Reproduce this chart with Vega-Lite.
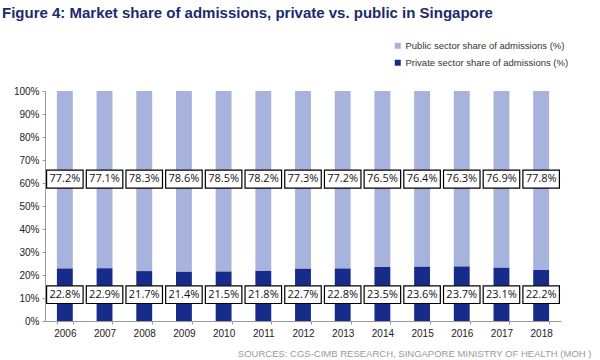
{
  "$schema": "https://vega.github.io/schema/vega-lite/v6.json",
  "width": 516,
  "height": 230,
  "autosize": {"type": "none"},
  "padding": {"left": 45, "top": 91, "right": 39, "bottom": 39},
  "background": "white",
  "config": {
    "view": {"stroke": null},
    "font": "Liberation Sans",
    "axisY": {
      "labelOverlap": false,
      "grid": false,
      "labelFontSize": 10,
      "labelColor": "#222",
      "tickSize": 3,
      "tickColor": "#999",
      "domainColor": "#999",
      "labelPadding": 3
    }
  },
  "title": {
    "text": "Figure 4: Market share of admissions, private vs. public in Singapore",
    "anchor": "start",
    "frame": "group",
    "dx": -43,
    "offset": 20,
    "fontSize": 15,
    "font": "Liberation Sans",
    "fontWeight": "bold",
    "color": "#1c2a6e"
  },
  "data": {
    "values": [
      {"year": "2006", "sector": "Public sector share of admissions (%)", "value": 77.2},
      {"year": "2007", "sector": "Public sector share of admissions (%)", "value": 77.1},
      {"year": "2008", "sector": "Public sector share of admissions (%)", "value": 78.3},
      {"year": "2009", "sector": "Public sector share of admissions (%)", "value": 78.6},
      {"year": "2010", "sector": "Public sector share of admissions (%)", "value": 78.5},
      {"year": "2011", "sector": "Public sector share of admissions (%)", "value": 78.2},
      {"year": "2012", "sector": "Public sector share of admissions (%)", "value": 77.3},
      {"year": "2013", "sector": "Public sector share of admissions (%)", "value": 77.2},
      {"year": "2014", "sector": "Public sector share of admissions (%)", "value": 76.5},
      {"year": "2015", "sector": "Public sector share of admissions (%)", "value": 76.4},
      {"year": "2016", "sector": "Public sector share of admissions (%)", "value": 76.3},
      {"year": "2017", "sector": "Public sector share of admissions (%)", "value": 76.9},
      {"year": "2018", "sector": "Public sector share of admissions (%)", "value": 77.8},
      {"year": "2006", "sector": "Private sector share of admissions (%)", "value": 22.8},
      {"year": "2007", "sector": "Private sector share of admissions (%)", "value": 22.9},
      {"year": "2008", "sector": "Private sector share of admissions (%)", "value": 21.7},
      {"year": "2009", "sector": "Private sector share of admissions (%)", "value": 21.4},
      {"year": "2010", "sector": "Private sector share of admissions (%)", "value": 21.5},
      {"year": "2011", "sector": "Private sector share of admissions (%)", "value": 21.8},
      {"year": "2012", "sector": "Private sector share of admissions (%)", "value": 22.7},
      {"year": "2013", "sector": "Private sector share of admissions (%)", "value": 22.8},
      {"year": "2014", "sector": "Private sector share of admissions (%)", "value": 23.5},
      {"year": "2015", "sector": "Private sector share of admissions (%)", "value": 23.6},
      {"year": "2016", "sector": "Private sector share of admissions (%)", "value": 23.7},
      {"year": "2017", "sector": "Private sector share of admissions (%)", "value": 23.1},
      {"year": "2018", "sector": "Private sector share of admissions (%)", "value": 22.2}
    ]
  },
  "transform": [
    {"calculate": "format(datum.value, '.1f') + '%'", "as": "label"}
  ],
  "encoding": {
    "x": {
      "field": "year",
      "type": "ordinal",
      "scale": {"paddingInner": 0.6, "paddingOuter": 0.3},
      "axis": {
        "title": "SOURCES: CGS-CIMB RESEARCH, SINGAPORE MINISTRY OF HEALTH (MOH )",
        "titleFont": "Liberation Sans",
        "titleFontSize": 9.5,
        "titleFontWeight": "normal",
        "titleColor": "#9a9a9a",
        "titleAnchor": "end",
        "titleAlign": "right",
        "titleBaseline": "alphabetic",
        "titleX": 546,
        "titleY": 35,
        "labelAngle": 0,
        "labelFontSize": 10,
        "labelColor": "#222",
        "labelPadding": 4,
        "tickBand": "extent",
        "tickSize": 3,
        "tickColor": "#999",
        "domainColor": "#999"
      }
    }
  },
  "layer": [
    {
      "mark": {"type": "bar"},
      "encoding": {
        "y": {
          "field": "value",
          "type": "quantitative",
          "stack": "zero",
          "scale": {"domain": [0, 100], "nice": false},
          "axis": {"title": null, "values": [0, 10, 20, 30, 40, 50, 60, 70, 80, 90, 100], "labelExpr": "datum.value + '%'"}
        },
        "order": {"field": "sector", "sort": "ascending"},
        "color": {
          "field": "sector",
          "type": "nominal",
          "scale": {
            "domain": ["Public sector share of admissions (%)", "Private sector share of admissions (%)"],
            "range": ["#a7b3dc", "#172c8a"]
          },
          "legend": {
            "title": null,
            "orient": "none",
            "legendX": 348,
            "legendY": -50,
            "symbolType": "square",
            "symbolSize": 36,
            "symbolStrokeWidth": 0,
            "labelFontSize": 9.5,
            "labelColor": "#333",
            "labelLimit": 300,
            "rowPadding": 6,
            "labelOffset": 3
          }
        }
      }
    },
    {
      "transform": [{"filter": "datum.sector == 'Public sector share of admissions (%)'"}],
      "mark": {"type": "bar", "fill": "white", "stroke": "black", "strokeWidth": 1.2, "width": {"band": 2.3}},
      "encoding": {
        "y": {"datum": 57.8, "axis": {"title": null, "values": [0, 10, 20, 30, 40, 50, 60, 70, 80, 90, 100], "labelExpr": "datum.value + '%'"}},
        "y2": {"datum": 65.6}
      }
    },
    {
      "transform": [{"filter": "datum.sector == 'Public sector share of admissions (%)'"}],
      "mark": {"type": "text", "font": "Open Sans", "fontSize": 11, "color": "#111"},
      "encoding": {
        "y": {"datum": 61.7, "axis": {"title": null, "values": [0, 10, 20, 30, 40, 50, 60, 70, 80, 90, 100], "labelExpr": "datum.value + '%'"}},
        "text": {"field": "label"}
      }
    },
    {
      "transform": [{"filter": "datum.sector == 'Private sector share of admissions (%)'"}],
      "mark": {"type": "bar", "fill": "white", "stroke": "black", "strokeWidth": 1.2, "width": {"band": 2.3}},
      "encoding": {
        "y": {"datum": 7.6, "axis": {"title": null, "values": [0, 10, 20, 30, 40, 50, 60, 70, 80, 90, 100], "labelExpr": "datum.value + '%'"}},
        "y2": {"datum": 15.3}
      }
    },
    {
      "transform": [{"filter": "datum.sector == 'Private sector share of admissions (%)'"}],
      "mark": {"type": "text", "font": "Open Sans", "fontSize": 11, "color": "#111"},
      "encoding": {
        "y": {"datum": 11.5, "axis": {"title": null, "values": [0, 10, 20, 30, 40, 50, 60, 70, 80, 90, 100], "labelExpr": "datum.value + '%'"}},
        "text": {"field": "label"}
      }
    }
  ]
}
